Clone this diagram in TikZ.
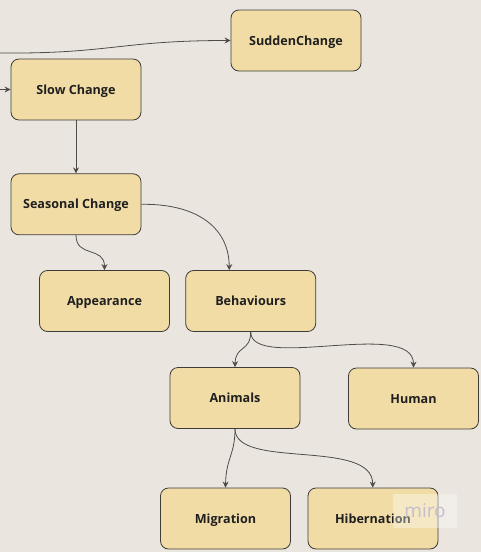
\documentclass[tikz,border=0pt]{standalone}
\usepackage{fontspec}
\setmainfont{Open Sans}
\usepackage{xcolor}
\definecolor{paper}{RGB}{234,230,223}
\definecolor{stickyfill}{RGB}{241,220,166}
\definecolor{stickyline}{RGB}{62,60,56}
\definecolor{wirecol}{RGB}{78,76,72}
\definecolor{mirogrey}{RGB}{196,190,206}
\usetikzlibrary{arrows.meta}
\usetikzlibrary{positioning}

\tikzset{
    topic/.style={draw=stickyline,fill=stickyfill,rounded corners=8pt,line width=0.8pt,
        minimum width=130pt,minimum height=61pt,inner sep=0pt,text height=9pt,text depth=0pt,
        font=\fontsize{12.6}{15}\selectfont\bfseries,text=black!88},
    wire/.style={draw=wirecol,line width=0.8pt,-{Stealth[length=6pt,width=6pt]}}
}

\begin{document}
\begin{tikzpicture}[x=1pt,y=-1pt]
    \fill[paper] (0,0) rectangle (481,552);
    \useasboundingbox (0,0) rectangle (481,552);

    \node[topic] (sudden)  at (296,40.5)  {SuddenChange};
    \node[topic] (slow)    at (76,89.5)   {Slow Change};
    \node[topic] (seasonal) [below=53pt of slow] {Seasonal Change};
    \node[topic] (appear)  at (104.5,301) {Appearance};
    \node[topic] (behav)   at (250.7,301) {Behaviours};
    \node[topic] (animals) at (235,398)   {Animals};
    \node[topic] (human)   at (413.5,398.5) {Human};
    \node[topic] (migr)    at (225.5,518.5) {Migration};
    \node[topic] (hibern)  at (373,518.5) {Hibernation};

    \coordinate (inA) at (0,53);
    \coordinate (inB) at (0,89.5);

    \draw[wire] (inA) .. controls (110,54) and (120,40.5) .. (sudden.west);
    \draw[wire] (inB) -- (slow.west);
    \draw[wire] (slow) -- (seasonal);
    \draw[wire] (seasonal.south) .. controls (76,258) and (104.5,246) .. (appear.north);
    \draw[wire] (seasonal.east) .. controls (200,203.5) and (229.2,230) .. ([xshift=-21.5pt]behav.north);
    \draw[wire] (behav.south) .. controls (250.7,352) and (235.5,345) .. (animals.north);
    \draw[wire] (behav.south) .. controls (250.7,372) and (413.5,318) .. (human.north);
    \draw[wire] (animals.south) .. controls (235,455) and (226,458) .. (migr.north);
    \draw[wire] (animals.south) .. controls (235,470) and (372.7,438) .. ([xshift=-0.3pt]hibern.north);

    % watermark
    \node[fill=white,fill opacity=0.35,text opacity=1,minimum width=64pt,minimum height=34pt,
          font=\fontsize{19}{20}\selectfont,text=mirogrey] (mark) at (425,511) {miro};
\end{tikzpicture}
\end{document}
